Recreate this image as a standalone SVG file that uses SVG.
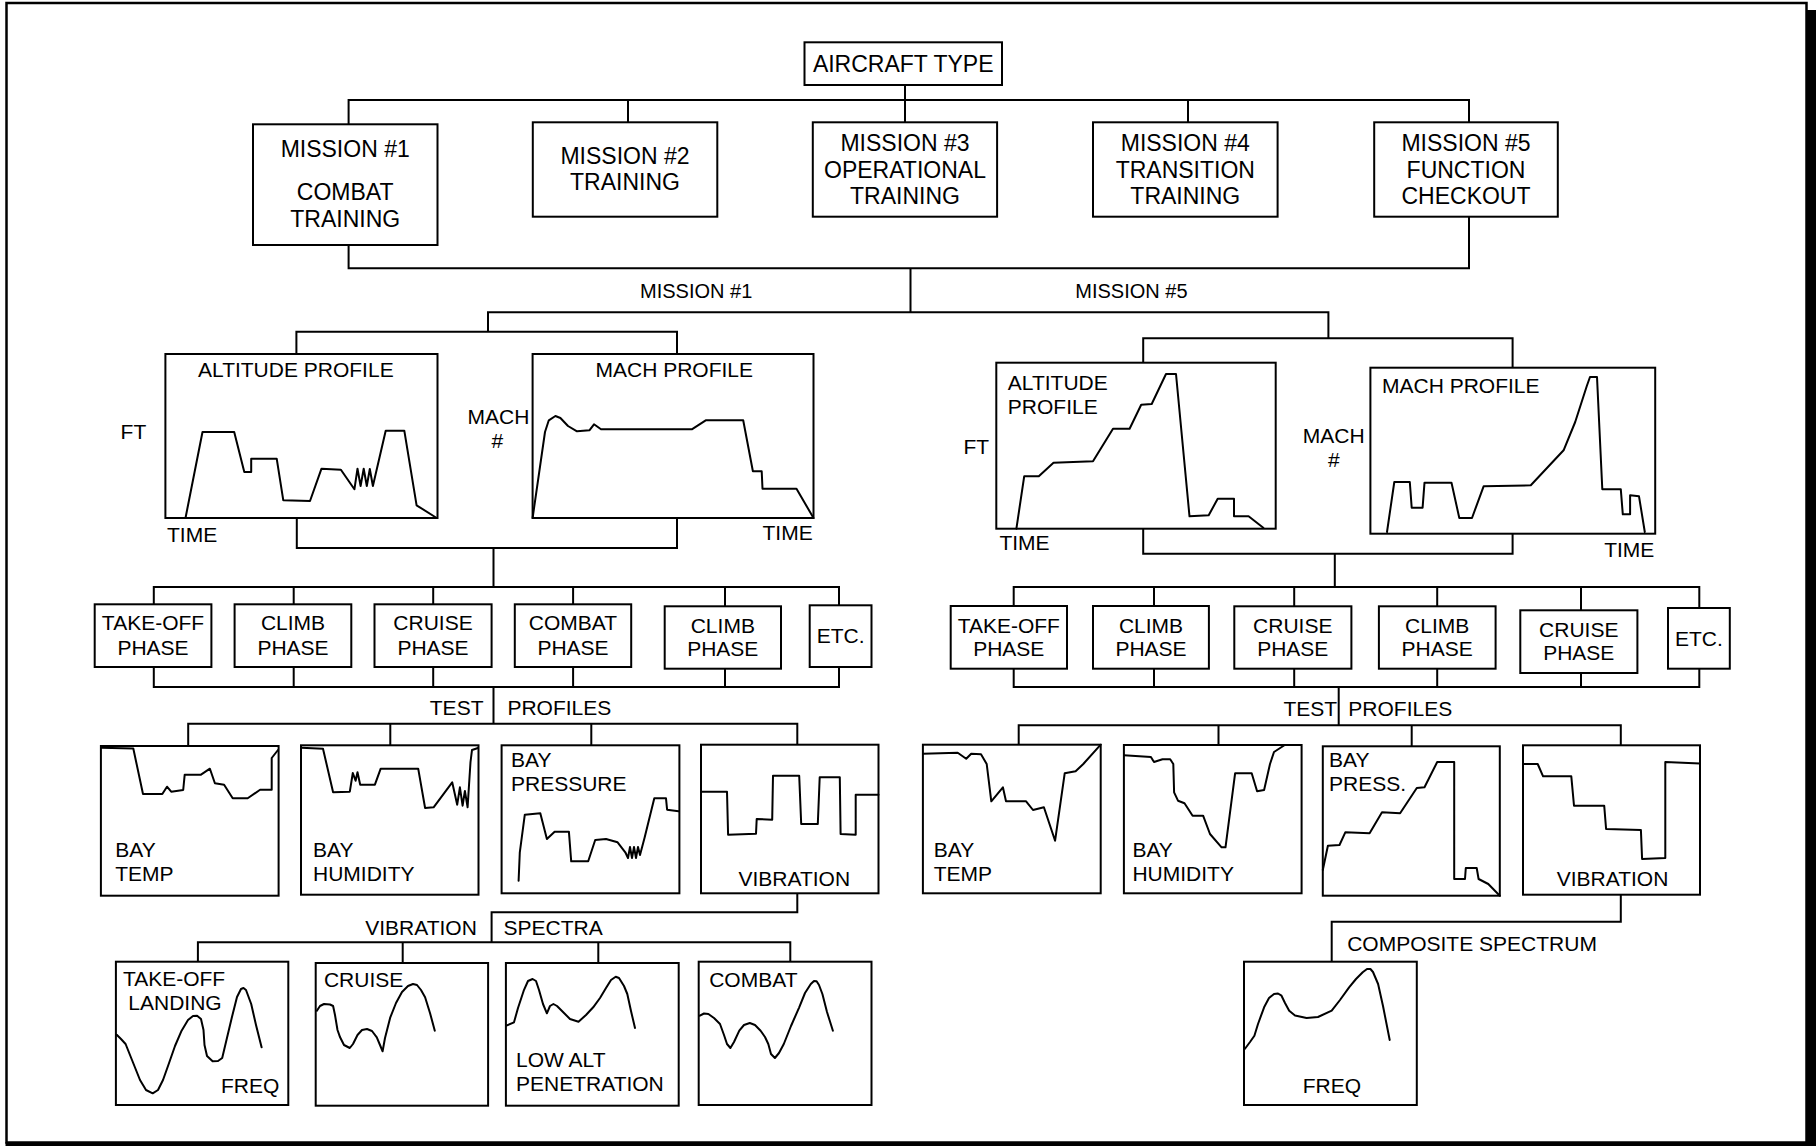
<svg xmlns="http://www.w3.org/2000/svg" width="1816" height="1146" viewBox="0 0 1816 1146">
<style>
.b{fill:#fff;stroke:#000;stroke-width:2}
.c{fill:none;stroke:#000;stroke-width:2;stroke-linejoin:round;stroke-linecap:round}
.k{fill:none;stroke:#000;stroke-width:2}
text{font-family:"Liberation Sans",Arial,Helvetica,sans-serif;font-size:21px;fill:#000}
.m{font-size:23px;text-anchor:middle}
.s{font-size:20px}
.mid{text-anchor:middle}
</style>
<rect x="0" y="0" width="1816" height="1146" fill="#fff"/>
<rect x="6.5" y="3" width="1800" height="1139.5" fill="none" stroke="#000" stroke-width="2.5"/>
<rect x="1807" y="10" width="9" height="1136" fill="#000"/>
<rect x="5.5" y="1142" width="1810.5" height="4" fill="#000"/>

<g id="connectors" class="k">
<path d="M905,85V122.3M348.6,124.3V100H1469V122.3M628,100V122.3M1188,100V122.3"/>
<path d="M348.6,245V268.3H1469V216.7M910.5,268.3V312.3M488,331.7V312.3H1328.4V338.3M296.4,354V331.7H677V354M1143.2,362.7V338.3H1512.6V367.7"/>
<path d="M296.8,518V548H677V518M493.5,548V587M153.8,604.3V587H839V605.3M293.7,587V604.3M433.2,587V604.3M573.1,587V604.3M725,587V606.3"/>
<path d="M153.8,667V687H839V667M293.7,667V687M433.2,667V687M573.1,667V687M725,668.7V687M493.5,687V723.7"/>
<path d="M188.2,746V723.7H797.3V744.7M390.3,723.7V745.3M591.3,723.7V745.3"/>
<path d="M797.3,893.3V912.3H491.6V942.3M197.9,961.7V942.3H790.3V961.7M402.7,942.3V963M598.3,942.3V963"/>
<path d="M1143.2,528.7V553.7H1512.6V533.7M1334.8,553.7V587M1013.7,606V587H1699.3V608M1154,587V606M1294.2,587V606.3M1437.2,587V606.3M1581,587V610.3"/>
<path d="M1013.7,668.7V687H1699.3V668.7M1154,668.7V687M1294.2,668.7V687M1437.2,668.7V687M1581,673V687M1338.7,687V725.3"/>
<path d="M1018.7,744.7V725.3H1620.8V745.3M1218.5,725.3V745M1411.7,725.3V746.3"/>
<path d="M1620.8,894.7V921.7H1331.7V961.7"/>
</g>

<g id="aircraft-type"><rect class="b" x="804.5" y="42.3" width="197.5" height="42.7"/><text class="m" x="903.2" y="71.7">AIRCRAFT TYPE</text></g>
<g id="mission1"><rect class="b" x="253" y="124.3" width="184.5" height="120.7"/><text class="m" x="345.2" y="156.7">MISSION #1</text><text class="m" x="345.2" y="200">COMBAT</text><text class="m" x="345.2" y="226.7">TRAINING</text></g>
<g id="mission2"><rect class="b" x="532.8" y="122.3" width="184.5" height="94.4"/><text class="m" x="625" y="164">MISSION #2</text><text class="m" x="625" y="190">TRAINING</text></g>
<g id="mission3"><rect class="b" x="812.8" y="122.3" width="184.3" height="94.4"/><text class="m" x="905" y="150.7">MISSION #3</text><text class="m" x="905" y="177.7">OPERATIONAL</text><text class="m" x="905" y="204">TRAINING</text></g>
<g id="mission4"><rect class="b" x="1093" y="122.3" width="184.6" height="94.4"/><text class="m" x="1185.3" y="150.7">MISSION #4</text><text class="m" x="1185.3" y="177.7">TRANSITION</text><text class="m" x="1185.3" y="204">TRAINING</text></g>
<g id="mission5"><rect class="b" x="1374.2" y="122.3" width="183.6" height="94.4"/><text class="m" x="1466" y="150.7">MISSION #5</text><text class="m" x="1466" y="177.7">FUNCTION</text><text class="m" x="1466" y="204">CHECKOUT</text></g>

<g id="labels-mission"><text class="s" x="640" y="298.3">MISSION #1</text><text class="s" x="1075.3" y="298.3">MISSION #5</text></g>

<g id="m1-altitude-profile">
<rect class="b" x="165.4" y="354" width="272.1" height="164"/>
<text x="198" y="376.7">ALTITUDE PROFILE</text>
<text x="120.6" y="439.3">FT</text><text x="167" y="542">TIME</text>
<polyline class="c" points="185.5,518 202.5,432 234.2,432 244.3,472 251.2,472 251.2,458.7 276.7,458.7 283.3,500.3 310,501 321.5,468.7 340.9,469.7 354.4,489.3 357.5,468.7 360.6,486 363.7,468.7 366.8,486 369.8,469 372.9,486 385.7,430.7 404.3,430.7 416.6,505.3 436.7,518"/>
</g>
<g id="m1-mach-profile">
<rect class="b" x="532.6" y="354" width="280.9" height="164"/>
<text x="595.5" y="376.7">MACH PROFILE</text>
<text x="467.6" y="423.7">MACH</text><text x="491.6" y="447.7">#</text><text x="762.5" y="540.3">TIME</text>
<polyline class="c" points="532.6,518 545,432 548.8,420.3 555.4,416 560.4,418 568,426 577,431.3 589.4,430.3 594,424.3 601,429.3 691.8,429.3 705.7,420.3 743.2,420.3 752.9,471.3 761.7,471.3 762.5,488.7 796.5,488.7 813.5,518"/>
</g>
<g id="m5-altitude-profile">
<rect class="b" x="996.3" y="362.7" width="279.4" height="166"/>
<text x="1007.8" y="389.7">ALTITUDE</text><text x="1007.8" y="413.7">PROFILE</text>
<text x="963.5" y="454.3">FT</text><text x="999.4" y="550.3">TIME</text>
<polyline class="c" points="1016.4,528.7 1024.2,476.3 1038.8,476.3 1053.5,462.7 1093,461.3 1113,428.7 1129.6,428.7 1141.2,404.7 1151.7,404 1166,374 1176,374 1189.5,516.3 1208.7,515.3 1217.7,498.7 1234,498.7 1234,516.3 1248.6,516.3 1263.3,527.7"/>
</g>
<g id="m5-mach-profile">
<rect class="b" x="1370.4" y="367.7" width="284.8" height="166"/>
<text x="1382" y="393">MACH PROFILE</text>
<text x="1302.8" y="443">MACH</text><text x="1327.9" y="467">#</text><text x="1604.2" y="557">TIME</text>
<polyline class="c" points="1387,532 1394.3,482 1409.8,482 1411.7,507.7 1422.6,507.7 1424.5,482.7 1451.5,482.7 1459.3,518 1472,518 1483.6,486.3 1530.8,485.3 1563.6,450.3 1575.2,422 1586.8,386 1590,377 1597,377 1602.3,489.3 1620.8,489.3 1622.8,514.3 1630.1,514.3 1630.1,495.3 1639,496.3 1644.8,532"/>
</g>

<g id="m1-takeoff"><rect class="b" x="94.7" y="604.3" width="116.7" height="62.7"/><text class="mid" x="153" y="630.3">TAKE-OFF</text><text class="mid" x="153" y="655.3">PHASE</text></g>
<g id="m1-climb"><rect class="b" x="234.6" y="604.3" width="116.7" height="62.7"/><text class="mid" x="293" y="630.3">CLIMB</text><text class="mid" x="293" y="655.3">PHASE</text></g>
<g id="m1-cruise"><rect class="b" x="374.5" y="604.3" width="117.1" height="62.7"/><text class="mid" x="433" y="630.3">CRUISE</text><text class="mid" x="433" y="655.3">PHASE</text></g>
<g id="m1-combat"><rect class="b" x="514.8" y="604.3" width="116.4" height="62.7"/><text class="mid" x="573" y="630.3">COMBAT</text><text class="mid" x="573" y="655.3">PHASE</text></g>
<g id="m1-climb2"><rect class="b" x="664.7" y="606.3" width="116.3" height="62.4"/><text class="mid" x="722.8" y="632.7">CLIMB</text><text class="mid" x="722.8" y="656.3">PHASE</text></g>
<g id="m1-etc"><rect class="b" x="809.7" y="605.3" width="61.8" height="61.7"/><text class="mid" x="840.6" y="642.7">ETC.</text></g>

<g id="m5-takeoff"><rect class="b" x="950.7" y="606" width="116.3" height="62.7"/><text class="mid" x="1008.8" y="632.7">TAKE-OFF</text><text class="mid" x="1008.8" y="656.3">PHASE</text></g>
<g id="m5-climb"><rect class="b" x="1093" y="606" width="115.9" height="62.7"/><text class="mid" x="1151" y="632.7">CLIMB</text><text class="mid" x="1151" y="656.3">PHASE</text></g>
<g id="m5-cruise"><rect class="b" x="1234.3" y="606.3" width="117.1" height="62.4"/><text class="mid" x="1292.8" y="632.7">CRUISE</text><text class="mid" x="1292.8" y="656.3">PHASE</text></g>
<g id="m5-climb2"><rect class="b" x="1378.9" y="606.3" width="116.7" height="62.4"/><text class="mid" x="1437.2" y="632.7">CLIMB</text><text class="mid" x="1437.2" y="656.3">PHASE</text></g>
<g id="m5-cruise2"><rect class="b" x="1520.3" y="610.3" width="117.1" height="62.7"/><text class="mid" x="1578.8" y="637">CRUISE</text><text class="mid" x="1578.8" y="660.3">PHASE</text></g>
<g id="m5-etc"><rect class="b" x="1668" y="608" width="61.8" height="60.7"/><text class="mid" x="1698.9" y="646">ETC.</text></g>

<g id="labels-test"><text x="429.8" y="714.7">TEST</text><text x="507.4" y="714.7">PROFILES</text><text x="1283.4" y="716">TEST</text><text x="1348.3" y="716">PROFILES</text></g>

<g id="m1-bay-temp"><rect class="b" x="100.9" y="746" width="177.7" height="149.7"/><text x="115.2" y="857.3">BAY</text><text x="115.2" y="881.3">TEMP</text>
<polyline class="c" points="101.3,747.7 133.3,748.5 143,794 162.3,794 167,786.7 171.2,791.7 183.2,790 184.7,774.7 201,774.7 209.9,768.7 214.9,783.3 224.1,784.7 232.7,798.3 247.7,798.3 260.1,789.7 271.7,789.7 271.7,758 278,750"/></g>
<g id="m1-bay-humidity"><rect class="b" x="301" y="745.3" width="177.5" height="149.4"/><text x="313" y="857.3">BAY</text><text x="313" y="881.3">HUMIDITY</text>
<polyline class="c" points="301.5,747.7 323,748.7 333.1,792.3 349.8,791.7 352.8,773 355.6,780.7 357.5,772.3 360.2,784.7 374.9,784.7 380.7,768.7 418.2,768.7 425.1,808 433.6,807.3 452.2,782.3 457.2,804.7 459.9,787.3 462.6,805.7 464.9,791 467.6,807.3 470.5,762 472,750 478,748"/></g>
<g id="m1-bay-pressure"><rect class="b" x="501.6" y="745.3" width="177.8" height="148"/><text x="511" y="767.3">BAY</text><text x="511" y="791.3">PRESSURE</text>
<polyline class="c" points="518.6,880.7 519.8,852.3 524.8,814.7 540.3,813.3 546.9,839 554.6,831.7 568.9,831.7 571.2,861.3 588.2,861.3 595.2,840 606,839 617.6,842.3 625.3,852.3 628,858 630,847 632,858 634,847 636,858 638,847 640,855 644.7,837.3 654.3,798.3 666,798.3 667.1,809.7 678.6,811.3"/></g>
<g id="m1-vibration"><rect class="b" x="701" y="744.7" width="177.5" height="148.6"/><text x="738.5" y="885.7">VIBRATION</text>
<polyline class="c" points="701,791.7 727,791.7 728.1,834.7 756,833.7 756.7,819 772.2,819.7 773,775.7 799.2,775.7 801.2,824 817.8,824 819.7,777.3 839.8,777.3 840.6,834 855.7,834.7 855.7,794.7 878.5,794.7"/></g>

<g id="m5-bay-temp"><rect class="b" x="922.9" y="744.7" width="177.8" height="148.6"/><text x="933.7" y="857.3">BAY</text><text x="933.7" y="881.3">TEMP</text>
<polyline class="c" points="922.9,753.7 957.7,752.7 966.2,758.7 971.2,753.7 981,754.3 986.7,764 991.3,801.3 1002.9,787.3 1006,801.3 1026.1,801.3 1033,810 1043.9,807.3 1055.1,840.7 1064.7,773.3 1075.6,771.3 1083.3,764 1100.7,744.7"/></g>
<g id="m5-bay-humidity"><rect class="b" x="1123.9" y="745" width="177.7" height="148.3"/><text x="1132.4" y="857.3">BAY</text><text x="1132.4" y="881.3">HUMIDITY</text>
<polyline class="c" points="1123.9,755.3 1150.9,757 1154,762 1162.5,759.3 1170.2,759.3 1173.3,764 1174.1,792.3 1178,800.7 1184.5,803.3 1192.6,815.7 1203.1,815.7 1210,834 1221.6,847.3 1225.5,847.3 1235.1,773.3 1251.7,773.3 1257.1,791.3 1264.1,790 1270,764 1274,752 1284,745.5"/></g>
<g id="m5-bay-press"><rect class="b" x="1322.8" y="746.3" width="177" height="149.4"/><text x="1329" y="767.3">BAY</text><text x="1329" y="791.3">PRESS.</text>
<polyline class="c" points="1322.8,870 1327.9,845.7 1339.5,845 1345.3,832.3 1369.6,833.3 1382,812.3 1400.1,813.3 1416.8,788 1424.5,787.3 1437.2,762 1454.2,762 1454.2,879 1465,879 1465.8,868 1476.7,868 1478.6,879 1488.3,884 1499.8,895.7"/></g>
<g id="m5-vibration"><rect class="b" x="1523" y="745.3" width="177" height="149.4"/><text x="1556.7" y="885.7">VIBRATION</text>
<polyline class="c" points="1523,764 1537.7,764 1543.1,776.3 1571.3,776.3 1574,805.7 1604.2,805.7 1606.1,829 1640.9,830 1642.1,859 1665.3,858 1665.3,762 1700,763.5"/></g>

<g id="labels-spectra"><text x="365.2" y="934.7">VIBRATION</text><text x="503.6" y="934.7">SPECTRA</text><text x="1347.2" y="950.7">COMPOSITE SPECTRUM</text></g>

<g id="spec-takeoff"><rect class="b" x="115.9" y="961.7" width="172.4" height="143.3"/><text x="122.9" y="985.7">TAKE-OFF</text><text x="128.3" y="1010">LANDING</text><text x="221" y="1093">FREQ</text>
<polyline class="c" points="116.7,1034.7 121,1039 125.6,1044 132,1060 140,1080 146,1090 152.7,1093.3 158,1090 163,1080 168,1066 175,1046 181.6,1030.7 188,1020 193,1016 197.1,1015.7 201,1019 203.5,1030 204.5,1045 207,1056 212.6,1061.3 218,1061 222.2,1058 226,1042 231.9,1017.3 237,997 241,989 243.5,988 246,990 251.2,1004 256,1025 261.6,1047.3"/></g>
<g id="spec-cruise"><rect class="b" x="315.7" y="963" width="172.4" height="142.7"/><text x="323.9" y="986.7">CRUISE</text>
<polyline class="c" points="316.9,1010.7 320,1006 324,1004 330,1004.5 333.1,1006 335,1015 337.5,1030 340.1,1037.3 344,1045 349.8,1048 353,1044 357.5,1035 362,1030 367,1029 372,1031 376.8,1037.3 380,1045 382.6,1051.3 385,1038 390.3,1017.3 396,1003 402,992 408,986 413,984 417,985 421,990 425.1,997.3 430,1013 434.8,1030.7"/></g>
<g id="spec-lowalt"><rect class="b" x="505.9" y="963" width="172.8" height="142.7"/><text x="516" y="1066.7">LOW ALT</text><text x="516" y="1090.7">PENETRATION</text>
<polyline class="c" points="506.3,1025.7 514,1022.3 518,1008 523.7,990.7 528,981 532.6,979 536,981 539,990 543,1004 546.9,1013.3 550,1006 553.4,1004 557,1006 563,1012 570,1019 578.5,1021.7 586,1015 593.2,1007.3 600,998 606,988 611,980 615.7,976.7 619,978 624,986 627.3,994 631,1011 635,1028"/></g>
<g id="spec-combat"><rect class="b" x="698.7" y="961.7" width="172.8" height="143.3"/><text x="709.2" y="986.7">COMBAT</text>
<polyline class="c" points="699.9,1015.7 704,1013.5 708.4,1014 714,1018 720,1024 724,1035 727,1044 730.4,1048 734,1042 739.3,1030.7 744,1025 749.8,1023 755,1025 760.6,1030.7 765,1037 768.3,1044 771,1054 774.9,1058 779,1053 783.8,1044 791,1026 799.2,1007.3 805,993 810.8,984 814,981 816.6,981.3 819,985 822.4,994 827,1012 832.9,1030.7"/></g>
<g id="spec-composite"><rect class="b" x="1244" y="961.7" width="172.8" height="143.3"/><text x="1302.8" y="1093.3">FREQ</text>
<polyline class="c" points="1244.8,1049 1250,1042 1254.4,1035.7 1258,1024 1264.1,1007.3 1269,998 1274,994 1278,993.5 1281.5,995.7 1285,1003 1289.2,1010.7 1295,1015.5 1306.6,1018 1318,1017 1331.7,1010.7 1340,1000 1349.1,987.3 1356,979 1362.7,972.3 1367,969 1370.4,969 1373,972 1378.1,984 1383,1006 1389.7,1040"/></g>
</svg>
